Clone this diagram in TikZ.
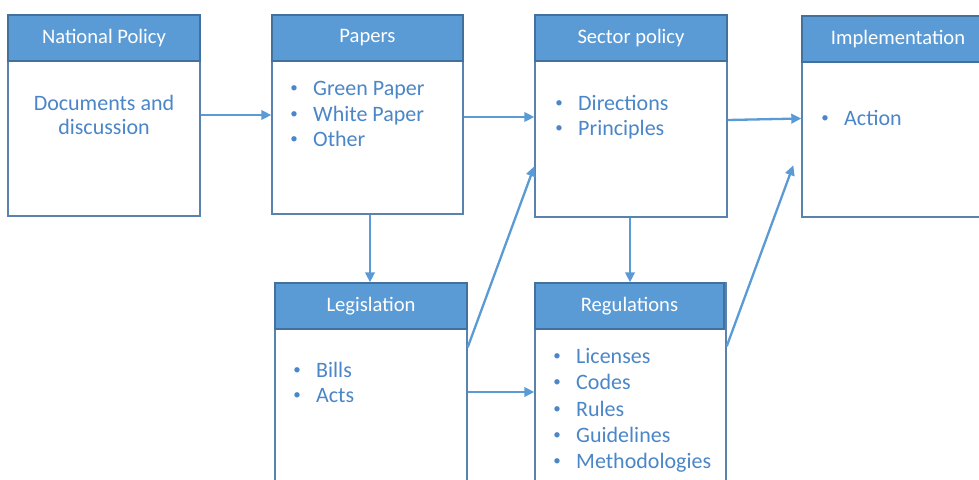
\documentclass[tikz,border=0pt]{standalone}
\usepackage{fontspec}
\setmainfont{Carlito}
\usetikzlibrary{arrows.meta}
\definecolor{hdr}{HTML}{5B9BD5}
\definecolor{hdrline}{HTML}{41719C}
\definecolor{boxline}{HTML}{5A82AE}
\definecolor{txt}{HTML}{4A86C8}
\definecolor{arr}{HTML}{5B9BD5}
\tikzset{
  box/.style={draw=boxline, line width=1.4pt, fill=white, rectangle, inner sep=0pt},
  hdrbox/.style={draw=hdrline, line width=1.4pt, fill=hdr, rectangle, inner sep=0pt,
    minimum height=46pt, anchor=north west, text=white, font=\fontsize{20.6}{24}\selectfont},
  body/.style={text=txt, inner sep=0pt, font=\fontsize{22}{26}\selectfont},
  item/.style={body, anchor=base west},
  conn/.style={draw=arr, line width=2.3pt, -{Triangle[length=10pt,width=9.5pt]}}
}
\newcommand{\bul}{\llap{\makebox[10pt][c]{\raisebox{2.6pt}{\fontsize{15}{15}\selectfont\textbullet}}\hspace{14pt}}}
\begin{document}
\begin{tikzpicture}[x=1pt,y=-1pt]
\clip (0,0) rectangle (979,479);
\fill[white] (0,0) rectangle (979,479);
% boxes
\node[box, minimum width=192pt, minimum height=201pt] (np)  at (104,115.5) {};
\node[box, minimum width=191pt, minimum height=199pt] (pap) at (367.5,114.5) {};
\node[box, minimum width=192pt, minimum height=202pt] (sec) at (631,116) {};
\node[box, minimum width=192pt, minimum height=201pt] (imp) at (898,116.5) {};
\node[box, minimum width=192pt, minimum height=210pt] (leg) at (371,388) {};
\node[box, minimum width=191pt, minimum height=210pt] (reg) at (630.5,388) {};
% headers
\node[hdrbox, minimum width=192pt] (nph)  at (np.north west)  {National Policy};
\node[hdrbox, minimum width=191pt] (paph) at (pap.north west) {Papers};
\node[hdrbox, minimum width=192pt] (sech) at (sec.north west) {Sector policy};
\node[hdrbox, minimum width=192pt] (imph) at (imp.north west) {Implementation};
\node[hdrbox, minimum width=192pt] (legh) at (leg.north west) {Legislation};
\node[hdrbox, minimum width=189pt] (regh) at (reg.north west) {Regulations};
% body texts
\node[body, anchor=base] (npt1) at (104,110) {Documents and};
\node[body, anchor=base] (npt2) at (104,134.5) {discussion};
\node[item] (p1) at (313,95.5)  {\bul Green Paper};
\node[item] (p2) at (313,121)   {\bul White Paper};
\node[item] (p3) at (313,146.5) {\bul Other};
\node[item] (s1) at (578,110)   {\bul Directions};
\node[item] (s2) at (578,135.5) {\bul Principles};
\node[item] (i1) at (844,125)   {\bul Action};
\node[item] (l1) at (316,377)   {\bul Bills};
\node[item] (l2) at (316,402.5) {\bul Acts};
\node[item] (r1) at (576,363)   {\bul Licenses};
\node[item] (r2) at (576,389.5) {\bul Codes};
\node[item] (r3) at (576,416)   {\bul Rules};
\node[item] (r4) at (576,442.5) {\bul Guidelines};
\node[item] (r5) at (576,468.5) {\bul Methodologies};
% connectors
\draw[conn] (np.east |- 0,115) -- (pap.west |- 0,115);
\draw[conn] (pap.east |- 0,117) -- (sec.west |- 0,117);
\draw[conn] (sec.east |- 0,120) -- (imp.west |- 0,118.5);
\draw[conn] (pap.south -| 370,0) -- (leg.north -| 370,0);
\draw[conn] (sec.south -| 630,0) -- (reg.north -| 630,0);
\draw[conn] ([yshift=-65pt]leg.north east) -- ([yshift=-152pt]sec.north west);
\draw[conn] (leg.east |- 0,392) -- (reg.west |- 0,392);
\draw[conn] ([yshift=-64pt]reg.north east) -- ([xshift=-8pt,yshift=-150pt]imp.north west);
\end{tikzpicture}
\end{document}
